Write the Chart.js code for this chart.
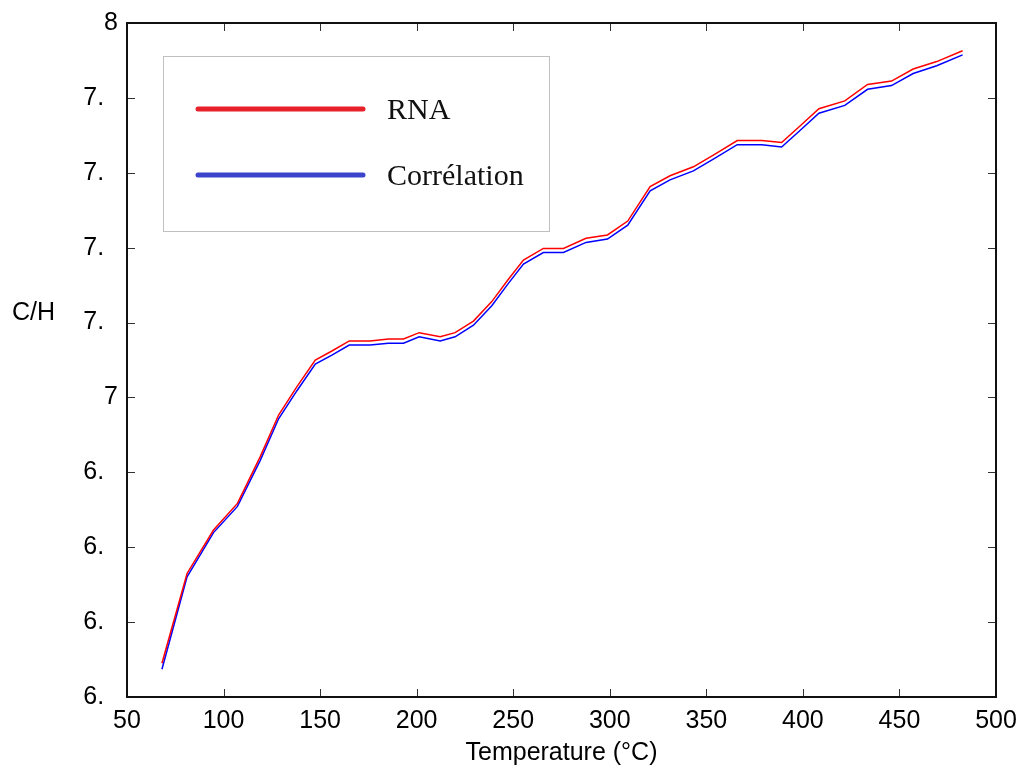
<!DOCTYPE html>
<html>
<head>
<meta charset="utf-8">
<script src="https://cdn.jsdelivr.net/npm/chart.js@4.4.0/dist/chart.umd.min.js"></script>
<style>
  body { margin: 0; background: #fff; }
  #wrap { width: 1021px; height: 769px; }
</style>
</head>
<body>
<div id="wrap"><canvas id="chCurve" width="1021" height="769"></canvas></div>
<script>
// values
var temperature = [68.1, 81.1, 94.8, 107.2, 119.0, 128.5, 138.0, 147.5, 156.1, 165.1,
  175.9, 185.4, 193.2, 201.3, 212.2, 219.9, 229.4, 238.9, 247.4, 255.3,
  265.6, 276.0, 287.7, 298.8, 309.3, 320.9, 331.2, 343.3, 354.5, 366.0,
  378.7, 389.0, 398.5, 408.3, 421.7, 433.5, 445.9, 457.1, 469.3, 482.7];
var rnaValues = [6.290, 6.530, 6.646, 6.717, 6.842, 6.953, 7.029, 7.100, 7.124, 7.151,
  7.151, 7.156, 7.156, 7.173, 7.162, 7.173, 7.204, 7.256, 7.315, 7.367,
  7.398, 7.398, 7.425, 7.434, 7.471, 7.563, 7.592, 7.616, 7.650, 7.686,
  7.686, 7.681, 7.725, 7.771, 7.792, 7.836, 7.845, 7.877, 7.897, 7.926];
var correlValues = [6.274, 6.521, 6.639, 6.709, 6.832, 6.943, 7.018, 7.089, 7.113, 7.140,
  7.140, 7.145, 7.145, 7.162, 7.151, 7.162, 7.193, 7.245, 7.304, 7.356,
  7.387, 7.387, 7.414, 7.423, 7.460, 7.552, 7.581, 7.605, 7.639, 7.675,
  7.675, 7.669, 7.713, 7.759, 7.780, 7.823, 7.833, 7.865, 7.886, 7.915];
var seriesNames = ["RNA", "Corrélation"];
var xTicks = [50, 100, 150, 200, 250, 300, 350, 400, 450, 500];
// the labels are cut off in the original figure
var yTickLabels = ["6.  ", "6.  ", "6.  ", "6.  ", "7", "7.  ", "7.  ", "7.  ", "7.  ", "8"];

function toPoints(xs, ys) {
  return xs.map(function (v, i) { return {x: v, y: ys[i]}; });
}

var sansFont = "'Liberation Sans', Arial, sans-serif";

// inward ticks on all four sides + frame
var framePlugin = {
  id: 'frame',
  afterDraw: function (chart) {
    var ctx = chart.ctx, a = chart.chartArea;
    var xs = chart.scales.x, ys = chart.scales.y;
    ctx.save();
    ctx.strokeStyle = '#333';
    ctx.lineWidth = 1;
    ctx.beginPath();
    xs.ticks.forEach(function (t) {
      var px = Math.round(xs.getPixelForValue(t.value)) + 0.5;
      ctx.moveTo(px, a.bottom); ctx.lineTo(px, a.bottom - 8);
      ctx.moveTo(px, a.top); ctx.lineTo(px, a.top + 8);
    });
    ys.ticks.forEach(function (t) {
      var py = Math.round(ys.getPixelForValue(t.value)) + 0.5;
      ctx.moveTo(a.left, py); ctx.lineTo(a.left + 8, py);
      ctx.moveTo(a.right, py); ctx.lineTo(a.right - 8, py);
    });
    ctx.stroke();
    ctx.strokeStyle = '#111';
    ctx.lineWidth = 2;
    ctx.strokeRect(a.left, a.top, a.right - a.left, a.bottom - a.top);

    // horizontal y title
    ctx.fillStyle = '#000';
    ctx.font = '25px ' + sansFont;
    ctx.textAlign = 'left';
    ctx.textBaseline = 'middle';
    ctx.fillText('C/H', 12, 313);
    ctx.restore();
  }
};

// boxed legend inside the plot
var legendPlugin = {
  id: 'boxLegend',
  afterDraw: function (chart) {
    var ctx = chart.ctx;
    var colors = ['#e8202a', '#3c44cc'];
    var rowY = [109, 175];
    ctx.save();
    ctx.fillStyle = '#fff';
    ctx.fillRect(163.5, 56.5, 386, 175);
    ctx.strokeStyle = '#c0c0c0';
    ctx.lineWidth = 1;
    ctx.strokeRect(163.5, 56.5, 386, 175);
    chart.data.datasets.forEach(function (ds, i) {
      ctx.strokeStyle = colors[i];
      ctx.lineWidth = 5;
      ctx.lineCap = 'round';
      ctx.beginPath();
      ctx.moveTo(198, rowY[i]);
      ctx.lineTo(363, rowY[i]);
      ctx.stroke();
      ctx.fillStyle = '#111';
      ctx.font = '30px "Liberation Serif", "Times New Roman", serif';
      ctx.textAlign = 'left';
      ctx.textBaseline = 'middle';
      ctx.fillText(ds.label, 387, rowY[i] + 2);
    });
    ctx.restore();
  }
};

var ctxCurve = document.getElementById("chCurve");
var curveConfig = {
  type: 'line',
  data: {
    datasets: [{
      label: seriesNames[0],
      data: toPoints(temperature, rnaValues),
      borderColor: '#ff0000',
      borderWidth: 1.5,
      pointRadius: 0,
      tension: 0
    }, {
      label: seriesNames[1],
      data: toPoints(temperature, correlValues),
      borderColor: '#0000ff',
      borderWidth: 1.5,
      pointRadius: 0,
      tension: 0
    }]
  },
  options: {
    responsive: false,
    animation: false,
    layout: { padding: { left: 0, top: 23, right: 25, bottom: 0 } },
    plugins: { legend: { display: false }, tooltip: { enabled: false } },
    scales: {
      x: {
        type: 'linear',
        min: xTicks[0],
        max: xTicks[xTicks.length - 1],
        grid: { display: false, drawTicks: false },
        border: { display: false },
        afterBuildTicks: function (scale) {
          scale.ticks = xTicks.map(function (v) { return {value: v}; });
        },
        ticks: {
          padding: 9,
          color: '#000',
          font: { family: sansFont, size: 25 },
          maxRotation: 0,
          autoSkip: false
        },
        title: {
          display: true,
          text: 'Temperature (°C)',
          color: '#000',
          font: { family: sansFont, size: 25 },
          padding: { top: 1, bottom: 1 }
        },
        afterFit: function (scale) {
          scale.height = 72;
          scale.paddingLeft = 0;
          scale.paddingRight = 0;
        }
      },
      y: {
        min: 6.2,
        max: 8.0,
        grid: { display: false, drawTicks: false },
        border: { display: false },
        ticks: {
          stepSize: 0.2,
          padding: 9,
          color: '#000',
          font: { family: sansFont, size: 25 },
          autoSkip: false,
          callback: function (value, index) { return yTickLabels[index]; }
        },
        afterFit: function (scale) {
          scale.width = 127;
          scale.paddingTop = 0;
          scale.paddingBottom = 0;
        }
      }
    }
  },
  plugins: [framePlugin, legendPlugin]
};
var curveChart = new Chart(ctxCurve, curveConfig);
</script>
</body>
</html>
